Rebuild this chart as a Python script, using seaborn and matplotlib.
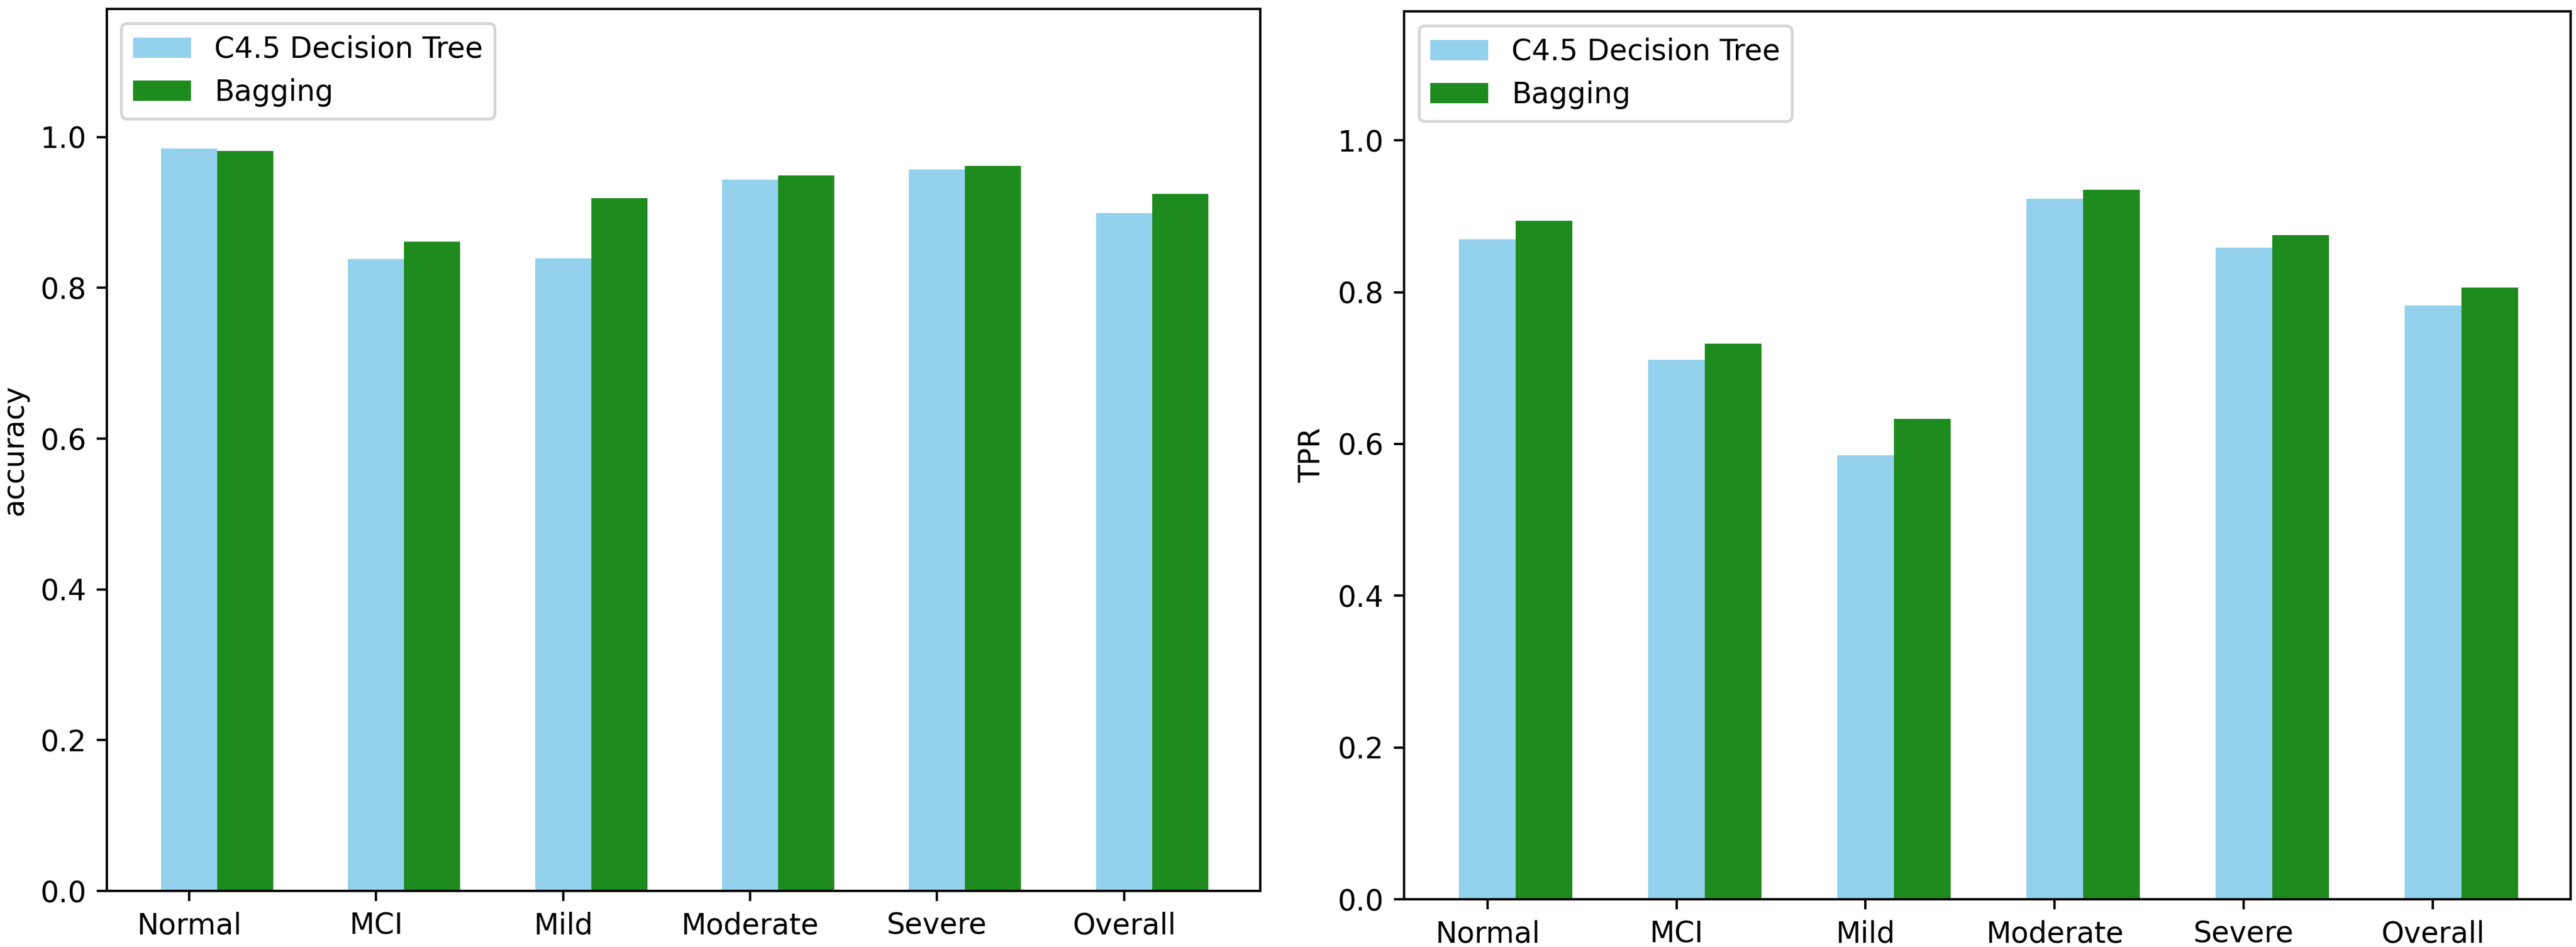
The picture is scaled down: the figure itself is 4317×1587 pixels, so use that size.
import matplotlib
matplotlib.use("Agg")
import matplotlib.pyplot as plt
import numpy as np
import pandas as pd
import seaborn as sns

groups = ["Normal", "MCI", "Mild", "Moderate", "Severe", "Overall"]
models = ["C4.5 Decision Tree", "Bagging"]

accuracy_c45 = [0.985, 0.838, 0.839, 0.944, 0.957, 0.899]
accuracy_bag = [0.982, 0.861, 0.919, 0.949, 0.962, 0.925]

tpr_c45 = [0.870, 0.711, 0.585, 0.923, 0.859, 0.782]
tpr_bag = [0.894, 0.732, 0.633, 0.935, 0.875, 0.806]

colors = ["#93D1EC", "#1E8B1E"]


def to_frame(c45, bag):
    return pd.DataFrame({
        "group": groups * 2,
        "model": [models[0]] * len(groups) + [models[1]] * len(groups),
        "value": list(c45) + list(bag),
    })


def draw(ax, df, ylabel):
    sns.barplot(data=df, x="group", y="value", hue="model", order=groups,
                hue_order=models, palette=colors, width=0.6, saturation=1,
                errorbar=None, ax=ax)
    # tick sits under the first bar of each pair
    ax.set_xticks(np.arange(len(groups)) - 0.15, labels=groups)
    ax.set_xlim(-0.59, 5.58)
    ax.set_ylim(0, 1.17)
    ax.set_yticks([0.0, 0.2, 0.4, 0.6, 0.8, 1.0])
    ax.set_xlabel("")
    ax.set_ylabel(ylabel)
    ax.legend(loc="upper left")


fig = plt.figure(figsize=(4317 / 350, 1587 / 350), dpi=350)
ax1 = fig.add_axes([0.0415, 0.0592, 0.4478, 0.9313])
ax2 = fig.add_axes([0.5451, 0.0504, 0.4529, 0.9376])

draw(ax1, to_frame(accuracy_c45, accuracy_bag), "accuracy")
draw(ax2, to_frame(tpr_c45, tpr_bag), "TPR")

fig.savefig("out.png", dpi=350)
